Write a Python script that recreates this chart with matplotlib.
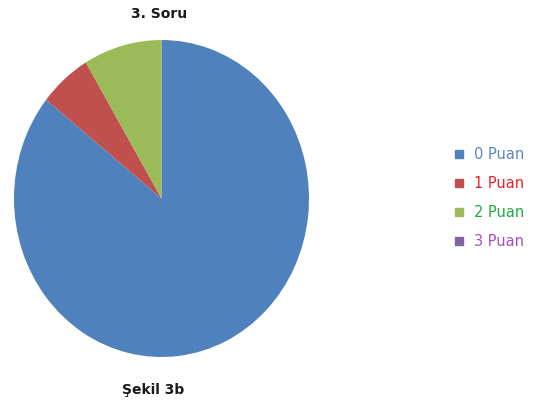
import matplotlib.pyplot as plt
from matplotlib.lines import Line2D

# Score distribution for question 3
labels = ['0 Puan', '1 Puan', '2 Puan', '3 Puan']
counts = [60, 4, 6, 0]
colors = ['#4F81BD', '#C0504D', '#9BBB59', '#8064A2']
text_colors = ['#5A86C0', '#F0202A', '#22AA44', '#A850C0']

plt.rcParams['font.family'] = ['DejaVu Sans']

fig = plt.figure(figsize=(5.46, 4.13), dpi=100)
ax = fig.add_axes([14 / 546, 56 / 413, 295 / 546, 317 / 413])
ax.pie(counts, colors=colors, startangle=90, counterclock=False,
       wedgeprops=dict(linewidth=0))
ax.set_aspect('auto')
ax.set_xlim(-1, 1)
ax.set_ylim(-1, 1)

fig.text(159 / 546, 1 - 14 / 413, '3. Soru', ha='center', va='center',
         fontsize=10, fontweight='bold', color='#1a1a1a')
fig.text(153 / 546, 1 - 390 / 413, 'Şekil 3b', ha='center', va='center',
         fontsize=10, fontweight='bold', color='#1a1a1a')

handles = [Line2D([], [], marker='s', linestyle='', markersize=6,
                  markerfacecolor=c, markeredgecolor=c) for c in colors]
leg = fig.legend(handles, labels, loc='upper left',
                 bbox_to_anchor=(440 / 546, 1 - 134 / 413), frameon=False,
                 fontsize=10.5, handlelength=0.8, handletextpad=0.6,
                 labelspacing=0.95)
for t, c in zip(leg.get_texts(), text_colors):
    t.set_color(c)

fig.savefig('out.png', dpi=100)
